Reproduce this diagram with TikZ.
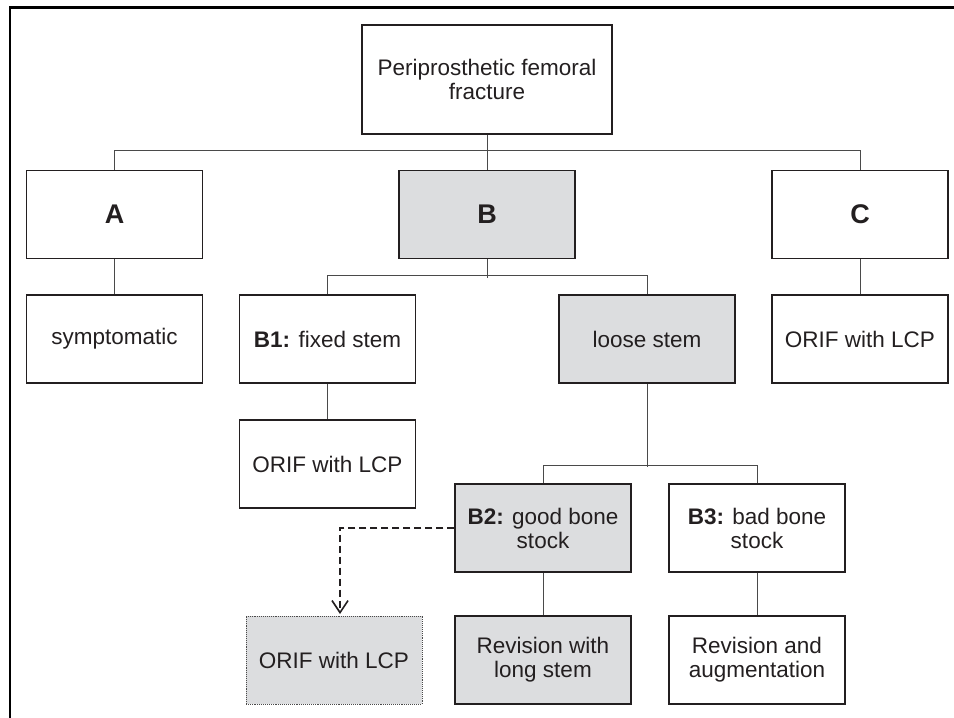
\documentclass[tikz,border=0pt]{standalone}
\usepackage{fontspec}
\setmainfont{Liberation Sans}
\usetikzlibrary{arrows.meta}
\definecolor{shade}{HTML}{DCDDDF}
\definecolor{ink}{HTML}{231F20}
\definecolor{wire}{HTML}{4A4A4A}
\tikzset{
    box/.style={draw=ink, line width=1.1pt, minimum width=176pt, minimum height=88pt,
        inner sep=0pt, align=center, text=ink, font=\fontsize{22.5}{24}\selectfont},
    grey/.style={box, fill=shade},
    wires/.style={draw=wire, line width=1pt},
}
\begin{document}
\begin{tikzpicture}[x=1pt, y=-1pt]
    \useasboundingbox (0,0) rectangle (954,718);
    % Frame (top and left edges)
    \draw[line width=2.4pt] (10,718) -- (10,7.5) -- (956,7.5);

    % Top and first level
    \node[box, minimum width=250pt, minimum height=109pt] (top) at (487,79.5) {Periprosthetic femoral\\fracture};
    \node[box, font=\fontsize{27}{30}\selectfont\bfseries] (A) at (114.5,214.5) {A};
    \node[grey, font=\fontsize{27}{30}\selectfont\bfseries] (B) at (487,214.5) {B};
    \node[box, font=\fontsize{27}{30}\selectfont\bfseries] (C) at (860,214.5) {C};

    % Second level
    \node[box] (symp) at (114.5,339) {symptomatic};
    \node[box] (B1) at (327.5,339) {\textbf{B1:} fixed stem};
    \node[grey] (loose) at (647,339) {loose stem};
    \node[box] (orifC) at (860,339) {ORIF with LCP};

    % Third level
    \node[box] (orifB1) at (327.5,464) {ORIF with LCP};
    \node[grey] (B2) at (543,528) {\textbf{B2:} good bone\\stock};
    \node[box] (B3) at (757,528) {\textbf{B3:} bad bone\\stock};

    % Bottom row
    \node[grey, draw=wire, densely dotted, line width=0.8pt] (orifB2) at (334,660) {ORIF with LCP};
    \node[grey] (revlong) at (543,660) {Revision with\\long stem};
    \node[box] (revaug) at (757,660) {Revision and\\augmentation};

    % Connectors
    \draw[wires] (top) -- (B);
    \draw[wires] (A.north) -- ++(0,-19) -| (C.north);
    \draw[wires] (A) -- (symp);
    \draw[wires] (C) -- (orifC);
    \draw[wires] (B.south) -- ++(0,19);
    \draw[wires] (B1.north) -- ++(0,-19) -| (loose.north);
    \draw[wires] (B1) -- (orifB1);
    \draw[wires] (loose.south) -- ++(0,83);
    \draw[wires] (B2.north) -- ++(0,-18) -| (B3.north);
    \draw[wires] (B2) -- (revlong);
    \draw[wires] (B3) -- (revaug);

    % Optional route
    \coordinate (tip) at (340,614);
    \draw[ink, line width=1.8pt, dash pattern=on 7pt off 4pt, -{Straight Barb[length=12pt, width=16pt, line width=1.6pt]}] (B2.west) -| (tip);
\end{tikzpicture}
\end{document}
